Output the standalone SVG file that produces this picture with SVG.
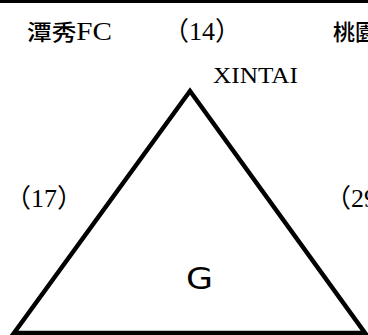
<svg xmlns="http://www.w3.org/2000/svg" width="368" height="335" viewBox="0 0 368 335">
<style>
.lbl{font-family:"Liberation Serif","Noto Sans CJK TC",serif;font-size:24px;fill:#000}
.num{font-family:"Liberation Serif","Noto Sans CJK TC",serif;font-size:26px;fill:#000}
.cjk{font-weight:500;font-size:22px}
.g{font-family:"DejaVu Sans","Noto Sans",sans-serif;font-size:30px;fill:#000}
.tri{fill:none;stroke:#000;stroke-width:4.5;stroke-linejoin:miter}
</style>
<rect x="0" y="0" width="368" height="3" fill="#000"/>
<g id="triangle">
<polygon class="tri" points="14,333 190,91 365,333"/>
</g>
<g id="labels">
<text class="lbl" x="27" y="40" style="font-size:26px" textLength="85" lengthAdjust="spacingAndGlyphs"><tspan class="cjk">潭秀</tspan>FC</text>
<text class="num" x="163" y="40">（14）</text>
<text class="lbl cjk" x="333" y="40">桃園</text>
<text class="lbl" x="213" y="83" textLength="85" lengthAdjust="spacingAndGlyphs">XINTAI</text>
<text class="num" x="5" y="207">（17）</text>
<text class="num" x="325" y="207">（29</text>
<text class="g" x="186" y="289" textLength="27" lengthAdjust="spacingAndGlyphs">G</text>
</g>
</svg>
